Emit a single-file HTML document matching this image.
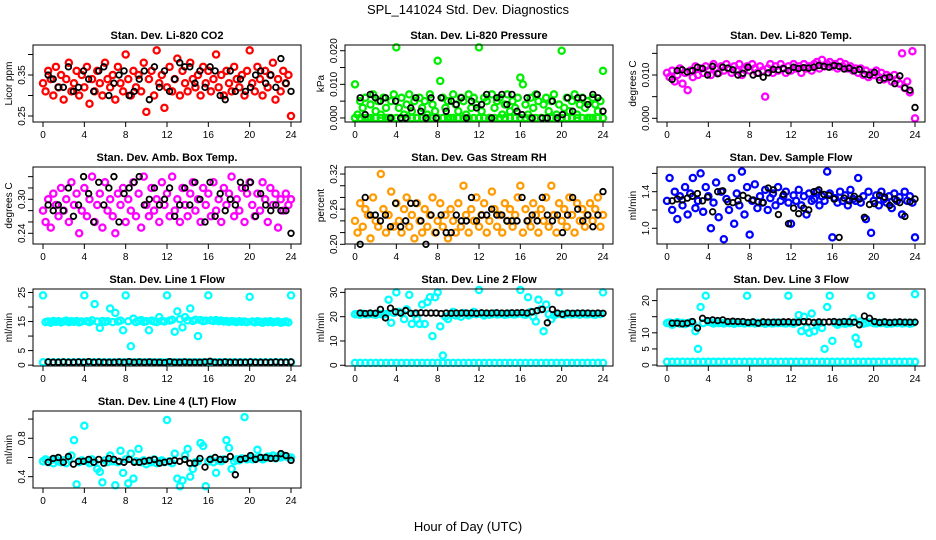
<!DOCTYPE html>
<html><head><meta charset="utf-8"><style>
html,body{margin:0;padding:0;background:#fff}
svg{display:block;font-family:"Liberation Sans",sans-serif}
</style></head><body>
<svg id="chart" width="936" height="540" viewBox="0 0 936 540">
<text x="468" y="14" text-anchor="middle" font-size="13">SPL_141024  Std. Dev. Diagnostics</text>
<text x="468" y="531" text-anchor="middle" font-size="13">Hour of Day (UTC)</text>
</svg>
<script>
const xTicks=[0,4,8,12,16,20,24];
const co2Vals=[0.33,0.31,0.36,0.34,0.30,0.37,0.32,0.35,0.29,0.34,0.38,0.31,0.33,0.36,0.30,0.35,0.32,0.37,0.28,0.34,0.31,0.36,0.33,0.30,0.38,0.34,0.32,0.35,0.29,0.37,0.33,0.31,0.40,0.34,0.30,0.36,0.32,0.35,0.31,0.38,0.26,0.34,0.36,0.30,0.41,0.33,0.35,0.27,0.32,0.37,0.31,0.34,0.39,0.30,0.36,0.33,0.31,0.38,0.34,0.32,0.35,0.30,0.37,0.33,0.36,0.31,0.34,0.40,0.32,0.35,0.30,0.36,0.33,0.31,0.37,0.34,0.32,0.35,0.30,0.36,0.41,0.33,0.31,0.37,0.34,0.30,0.36,0.32,0.35,0.38,0.29,0.34,0.31,0.36,0.33,0.35,0.25];
const co2Mean=[0.35,0.34,0.32,0.32,0.37,0.31,0.32,0.36,0.34,0.31,0.36,0.37,0.30,0.33,0.35,0.36,0.30,0.31,0.34,0.36,0.29,0.37,0.32,0.36,0.31,0.34,0.38,0.37,0.37,0.33,0.36,0.32,0.37,0.36,0.30,0.29,0.36,0.31,0.34,0.31,0.32,0.35,0.36,0.33,0.35,0.32,0.39,0.33,0.31];
const presVals=[0.010,0.001,0.005,0.003,0.006,0.000,0.004,0.007,0.002,0.005,0.001,0.006,0.003,0.000,0.005,0.007,0.021,0.003,0.006,0.001,0.004,0.007,0.002,0.005,0.000,0.006,0.003,0.005,0.001,0.007,0.004,0.002,0.017,0.011,0.006,0.003,0.005,0.000,0.007,0.004,0.002,0.006,0.005,0.001,0.007,0.003,0.006,0.004,0.021,0.002,0.006,0.005,0.000,0.007,0.003,0.005,0.006,0.001,0.004,0.007,0.002,0.005,0.003,0.006,0.012,0.010,0.004,0.001,0.006,0.003,0.007,0.005,0.000,0.004,0.006,0.002,0.005,0.007,0.001,0.004,0.020,0.003,0.006,0.002,0.005,0.007,0.001,0.004,0.006,0.003,0.005,0.000,0.006,0.004,0.002,0.005,0.014];
const presBase=[0,0,0,0,0,0,0,0,0,0,0,0,0,0,0,0,0,0,0,0,0,0,0,0,0,0,0,0,0,0,0,0,0,0,0,0,0,0,0,0,0,0,0,0,0,0,0,0,0];
const presMean=[0.006,0.001,0.007,0.006,0.005,0.006,0.000,0.005,0.000,0.000,0.003,0.006,0.002,0.000,0.006,0.000,0.006,0.002,0.005,0.004,0.006,0.000,0.005,0.003,0.004,0.007,0.000,0.006,0.007,0.004,0.007,0.002,0.001,0.006,0.000,0.007,0.000,0.000,0.005,0.000,0.001,0.006,0.002,0.006,0.006,0.004,0.007,0.006,0.002];
const tempVals=[0.0105,0.0095,0.0110,0.0085,0.0100,0.0115,0.0080,0.0105,0.0065,0.0110,0.0095,0.0120,0.0100,0.0115,0.0105,0.0120,0.0110,0.0100,0.0125,0.0115,0.0105,0.0120,0.0110,0.0125,0.0115,0.0105,0.0120,0.0110,0.0125,0.0100,0.0115,0.0120,0.0110,0.0125,0.0115,0.0105,0.0120,0.0110,0.0050,0.0115,0.0125,0.0105,0.0120,0.0110,0.0125,0.0115,0.0105,0.0120,0.0110,0.0125,0.0115,0.0120,0.0105,0.0125,0.0115,0.0120,0.0110,0.0125,0.0130,0.0115,0.0135,0.0120,0.0125,0.0130,0.0120,0.0125,0.0115,0.0130,0.0120,0.0125,0.0115,0.0120,0.0110,0.0115,0.0105,0.0115,0.0100,0.0110,0.0095,0.0105,0.0100,0.0110,0.0095,0.0105,0.0090,0.0100,0.0095,0.0085,0.0100,0.0090,0.0080,0.0150,0.0070,0.0085,0.0060,0.0155,0.0000];
const tempMean=[0.0090,0.0110,0.0112,0.0107,0.0110,0.0118,0.0115,0.0100,0.0120,0.0103,0.0118,0.0116,0.0112,0.0100,0.0104,0.0118,0.0100,0.0104,0.0095,0.0105,0.0113,0.0112,0.0115,0.0110,0.0118,0.0115,0.0117,0.0116,0.0118,0.0122,0.0120,0.0118,0.0122,0.0120,0.0114,0.0116,0.0110,0.0113,0.0102,0.0100,0.0106,0.0088,0.0093,0.0095,0.0080,0.0098,0.0070,0.0065,0.0025];
const boxVals=[0.28,0.26,0.30,0.25,0.31,0.29,0.27,0.32,0.28,0.30,0.26,0.33,0.29,0.31,0.24,0.28,0.32,0.27,0.30,0.34,0.26,0.29,0.31,0.25,0.33,0.28,0.30,0.27,0.24,0.31,0.29,0.32,0.26,0.30,0.28,0.33,0.27,0.31,0.25,0.34,0.29,0.27,0.32,0.28,0.30,0.26,0.33,0.29,0.31,0.27,0.34,0.28,0.30,0.26,0.32,0.29,0.27,0.31,0.33,0.28,0.30,0.26,0.32,0.29,0.31,0.27,0.33,0.28,0.30,0.26,0.32,0.29,0.31,0.34,0.27,0.30,0.28,0.32,0.26,0.31,0.33,0.29,0.27,0.31,0.28,0.33,0.30,0.26,0.32,0.29,0.31,0.25,0.30,0.28,0.31,0.29,0.30];
const boxMean=[0.29,0.28,0.29,0.28,0.32,0.27,0.29,0.34,0.31,0.26,0.33,0.29,0.32,0.34,0.26,0.31,0.32,0.33,0.34,0.29,0.30,0.32,0.29,0.30,0.32,0.27,0.29,0.32,0.29,0.33,0.30,0.26,0.33,0.27,0.31,0.28,0.30,0.29,0.33,0.32,0.33,0.27,0.31,0.29,0.28,0.29,0.28,0.28,0.24];
const rhVals=[0.24,0.22,0.27,0.23,0.26,0.25,0.21,0.28,0.24,0.23,0.32,0.26,0.22,0.25,0.29,0.23,0.27,0.24,0.22,0.26,0.28,0.23,0.25,0.21,0.27,0.24,0.22,0.26,0.23,0.25,0.28,0.22,0.24,0.27,0.23,0.25,0.21,0.26,0.24,0.22,0.27,0.23,0.30,0.25,0.22,0.26,0.24,0.28,0.23,0.25,0.27,0.22,0.24,0.29,0.26,0.23,0.25,0.22,0.27,0.24,0.26,0.23,0.25,0.28,0.30,0.22,0.26,0.24,0.23,0.27,0.25,0.22,0.26,0.24,0.28,0.23,0.30,0.25,0.22,0.27,0.24,0.26,0.23,0.28,0.25,0.22,0.27,0.24,0.26,0.23,0.25,0.27,0.24,0.26,0.28,0.23,0.25];
const rhMean=[0.20,0.28,0.25,0.25,0.24,0.25,0.23,0.27,0.23,0.24,0.27,0.27,0.24,0.20,0.25,0.22,0.25,0.22,0.22,0.25,0.24,0.24,0.28,0.24,0.25,0.25,0.26,0.25,0.25,0.24,0.24,0.24,0.28,0.24,0.25,0.24,0.28,0.25,0.24,0.25,0.22,0.25,0.28,0.26,0.24,0.25,0.23,0.25,0.29];
const sampVals=[1.30,1.55,1.20,1.40,1.10,1.35,1.25,1.45,1.15,1.38,1.55,1.22,1.30,1.60,1.18,1.45,1.35,1.00,1.28,1.50,1.12,1.40,0.88,1.32,1.20,1.55,1.05,1.38,1.25,1.62,1.15,1.45,0.93,1.30,1.48,1.22,1.35,1.28,1.42,1.20,1.33,1.38,1.25,1.45,1.30,1.35,1.40,1.28,1.05,1.36,1.30,1.42,1.25,1.35,1.15,1.38,1.30,1.32,1.40,1.25,1.35,1.30,1.62,1.38,0.90,1.33,1.28,1.40,1.30,1.36,1.25,1.42,1.32,1.30,1.55,1.28,1.35,1.10,1.40,0.95,1.30,1.36,1.25,1.40,1.32,1.28,1.35,1.22,1.38,1.30,1.34,1.15,1.40,1.30,1.35,1.28,0.90];
const sampMean=[1.30,1.32,1.31,1.33,1.35,1.38,1.30,1.34,1.18,1.40,1.41,1.29,1.28,1.30,1.36,1.33,1.31,1.29,1.28,1.44,1.42,1.15,1.37,1.05,1.22,1.16,1.22,1.20,1.40,1.42,1.37,1.36,1.32,0.90,1.33,1.30,1.35,1.32,1.12,1.26,1.27,1.36,1.34,1.25,1.32,1.28,1.13,1.29,1.32];
const l1Vals=[24,14.8,15.0,14.6,15.2,14.9,15.1,14.7,15.0,15.3,14.8,15.1,14.9,15.2,14.7,15.0,24,15.1,14.8,15.4,21,15.0,12.8,15.2,14.9,15.1,19.5,14.8,18,15.0,15.3,12,24,15.1,6.5,16.0,14.8,15.2,15.5,14.9,15.1,12,15.3,15.0,14.8,16.5,15.2,15.0,24,15.3,15.6,11.5,18.5,15.8,13,16.5,15.4,19.5,15.2,15.6,10,15.5,15.1,15.3,24,15.4,15.2,15.5,15.1,15.3,15.0,15.2,14.9,15.1,15.0,14.8,15.1,14.9,15.0,14.8,23.5,15.0,14.7,15.1,14.9,14.6,15.0,14.8,15.1,14.7,14.9,15.0,14.6,14.8,15.0,14.7,24];
const l1Base=[1,1,1,1,1,1,1,1,1,1,1,1,1,1,1,1,1,1,1,1,1,1,1,1,1,1,1,1,1,1,1,1,1,1,1,1,1,1,1,1,1,1,1,1,1,1,1,1,1];
const l1Mean=[1.1,1.0,1.0,1.1,1.0,1.0,1.1,1.0,1.2,1.0,1.1,1.0,1.0,1.0,1.1,1.0,1.2,1.0,1.1,1.0,1.1,1.0,1.0,0.9,1.2,1.0,1.0,1.1,1.0,1.0,1.0,1.1,1.3,1.0,1.0,1.1,1.0,1.0,1.0,1.0,1.1,1.0,1.0,1.0,1.0,1.1,1.0,1.0,1.1];
const l2Vals=[21,21,20.8,21.2,21,20.9,21.1,21,20.8,21.2,21,20.9,21.1,27,17.5,21.5,30,22,21.5,19,23,29,17,21,19,17,25,17,26,28,12,28,30,16,4,20,19,21,22,20.5,21,20,21.5,21,20.5,21,22,21,31,21,20.5,21.2,20.8,21,21.3,20.9,21,21.1,20.8,21,21.2,21,20.9,21.2,31,21,20.8,28,22,20,18,27,23,14,25,21,19,20.5,21,30,21,20.8,21.2,21,20.9,21.1,21,20.8,21.2,21,20.9,21.1,21,20.8,21.2,21,30];
const l2Base=[1,1,1,1,1,1,1,1,1,1,1,1,1,1,1,1,1,1,1,1,1,1,1,1,1,1,1,1,1,1,1,1,1,1,1,1,1,1,1,1,1,1,1,1,1,1,1,1,1];
const l2Mean=[21.5,21.3,21.5,21.4,23,19.5,23.5,22,21.5,22.5,21.4,21.5,21.6,21.5,21.5,21.5,21.3,21.5,21.4,21.5,21.5,21.5,21.5,21.4,21.6,21.5,21.5,21.6,21.5,21.5,21.6,21.6,21.7,21.5,22,22.5,23,17.5,23,21.5,21,21.5,21.4,21.5,21.5,21.5,21.4,21.5,21.4];
const l3Vals=[13,13.2,12.5,13,13.3,12.8,13.1,12.7,13,13.2,12.9,10.5,5,18,13,21.5,13.4,13.2,12.9,13.3,13,13.1,12.9,13.2,13,13.1,12.8,13.2,13,13.1,12.9,21.5,13,13.2,12.9,13.1,13,13.2,12.8,13.1,13,12.9,13.2,13,13.1,13,12.9,21.5,13,12.8,13.2,15.5,10.5,15,11.5,10,16,10.5,12.5,13,11.5,5,18,21.5,7.5,13,12.5,13.2,13,12.8,13.2,13,14.5,8.5,6.5,13.5,12.8,13,13.2,21.5,13,12.9,13.1,13,13.2,12.8,13,12.9,13.1,13,13.2,12.9,13,13.1,12.8,13,22];
const l3Base=[1,1,1,1,1,1,1,1,1,1,1,1,1,1,1,1,1,1,1,1,1,1,1,1,1,1,1,1,1,1,1,1,1,1,1,1,1,1,1,1,1,1,1,1,1,1,1,1,1];
const l3Mean=[13,13,12.8,13,13.5,11.5,14.5,13.8,14,13.8,14,13.5,13.6,13.5,13.5,13.2,13.4,13,13.4,13.3,13.3,13.3,13.4,13.4,13.3,13.3,13.5,13.4,13.2,13.4,13.3,13.4,13.5,13.3,13.5,13.4,13.3,12.5,15.2,14.5,13.5,13.2,13.4,13.2,13.3,13.4,13.3,13.3,13.3];
const l4Vals=[0.56,0.58,0.55,0.57,0.54,0.58,0.56,0.55,0.57,0.54,0.58,0.62,0.78,0.32,0.55,0.57,0.93,0.56,0.54,0.58,0.55,0.48,0.45,0.34,0.57,0.55,0.62,0.56,0.31,0.55,0.67,0.44,0.58,0.33,0.64,0.38,0.56,0.69,0.55,0.57,0.53,0.56,0.55,0.58,0.54,0.56,0.57,0.55,0.99,0.56,0.54,0.64,0.38,0.30,0.36,0.62,0.69,0.40,0.48,0.55,0.56,0.75,0.72,0.30,0.56,0.58,0.55,0.44,0.57,0.56,0.58,0.78,0.70,0.48,0.56,0.58,0.57,0.59,1.02,0.58,0.60,0.58,0.59,0.68,0.60,0.58,0.59,0.61,0.60,0.62,0.59,0.61,0.60,0.62,0.61,0.60,0.60];
const l4Mean=[0.55,0.59,0.60,0.55,0.61,0.53,0.56,0.56,0.58,0.55,0.58,0.54,0.59,0.58,0.56,0.55,0.58,0.55,0.55,0.56,0.57,0.58,0.54,0.55,0.56,0.57,0.56,0.58,0.54,0.54,0.59,0.50,0.58,0.60,0.58,0.58,0.61,0.42,0.58,0.59,0.62,0.58,0.60,0.60,0.59,0.59,0.64,0.62,0.57];

const panels=[
 {c:0,r:0,title:"Stan. Dev. Li-820 CO2",ylab:"Licor ppm",lo:0.2354,hi:0.4232,ticks:[0.25,0.30,0.35,0.40],labs:["0.25","0.35"],col:"#ff0000",series:[co2Vals],mean:co2Mean},
 {c:1,r:0,title:"Stan. Dev. Li-820 Pressure",ylab:"kPa",lo:-0.0012,hi:0.0217,ticks:[0,0.005,0.010,0.015,0.020],labs:["0.000","0.010","0.020"],col:"#00ee00",series:[presBase,presVals],mean:presMean},
 {c:2,r:0,title:"Stan. Dev. Li-820 Temp.",ylab:"degrees C",lo:-0.00085,hi:0.01693,ticks:[0,0.005,0.010,0.015],labs:["0.000","0.010"],col:"#ff00ff",series:[tempVals],mean:tempMean},
 {c:0,r:1,title:"Stan. Dev. Amb. Box Temp.",ylab:"degrees C",lo:0.2211,hi:0.357,ticks:[0.24,0.26,0.28,0.30,0.32,0.34],labs:["0.24","0.30"],col:"#ff00ff",series:[boxVals],mean:boxMean},
 {c:1,r:1,title:"Stan. Dev. Gas Stream RH",ylab:"percent",lo:0.2005,hi:0.332,ticks:[0.20,0.22,0.24,0.26,0.28,0.30,0.32],labs:["0.20","0.26","0.32"],col:"#ff9a00",series:[rhVals],mean:rhMean},
 {c:2,r:1,title:"Stan. Dev. Sample Flow",ylab:"ml/min",lo:0.828,hi:1.670,ticks:[1.0,1.2,1.4,1.6],labs:["1.0","1.4"],col:"#0000ff",series:[sampVals],mean:sampMean},
 {c:0,r:2,title:"Stan. Dev. Line 1 Flow",ylab:"ml/min",lo:-0.3,hi:26.2,ticks:[0,5,10,15,20,25],labs:["0","5","15","25"],col:"#00ffff",series:[l1Base,l1Vals],mean:l1Mean},
 {c:1,r:2,title:"Stan. Dev. Line 2 Flow",ylab:"ml/min",lo:-0.3,hi:31.4,ticks:[0,10,20,30],labs:["0","10","20","30"],col:"#00ffff",series:[l2Base,l2Vals],mean:l2Mean},
 {c:2,r:2,title:"Stan. Dev. Line 3 Flow",ylab:"ml/min",lo:-0.3,hi:23.6,ticks:[0,5,10,15,20],labs:["0","5","10","20"],col:"#00ffff",series:[l3Base,l3Vals],mean:l3Mean},
 {c:0,r:3,title:"Stan. Dev. Line 4 (LT) Flow",ylab:"ml/min",lo:0.282,hi:1.084,ticks:[0.4,0.6,0.8,1.0],labs:["0.4","0.8"],col:"#00ffff",series:[l4Vals],mean:l4Mean}
];
const NS="http://www.w3.org/2000/svg";
const svg=document.getElementById('chart');
function mk(tag,attrs,parent){const e=document.createElementNS(NS,tag);for(const k in attrs)e.setAttribute(k,attrs[k]);parent.appendChild(e);return e;}
panels.forEach((p,pi)=>{
  const g=mk('g',{},svg);
  
  
  const x0=43+312*p.c, x24=291+312*p.c;
  const top=45+122*p.r, bot=122+122*p.r;
  const L=x0-10, R=x24+10;
  const xs=h=>x0+(x24-x0)*h/24;
  const ys=v=>bot-(v-p.lo)/(p.hi-p.lo)*(bot-top);
  const t=mk('text',{x:(L+R)/2,y:top-6,'text-anchor':'middle','font-size':11,'font-weight':'bold'},g);
  t.textContent=p.title;
  
  
  const yl=mk('text',{x:0,y:0,'text-anchor':'middle','font-size':10,transform:`translate(${L-21},${(top+bot)/2}) rotate(-90)`},g);
  yl.textContent=p.ylab;
  
  
  mk('line',{x1:x0,y1:bot,x2:x24,y2:bot,stroke:'#000','stroke-width':1},g);
  xTicks.forEach(h=>{
    mk('line',{x1:xs(h),y1:bot,x2:xs(h),y2:bot+5,stroke:'#000','stroke-width':1},g);
    const tl=mk('text',{x:xs(h),y:bot+16,'text-anchor':'middle','font-size':10},g);
    tl.textContent=h;
    
    
  });
  const yt0=ys(p.ticks[0]), yt1=ys(p.ticks[p.ticks.length-1]);
  mk('line',{x1:L,y1:yt0,x2:L,y2:yt1,stroke:'#000','stroke-width':1},g);
  p.ticks.forEach(v=>{mk('line',{x1:L-5,y1:ys(v),x2:L,y2:ys(v),stroke:'#000','stroke-width':1},g);});
  p.labs.forEach(s=>{
    const v=parseFloat(s);
    const tl=mk('text',{x:0,y:0,'text-anchor':'middle','font-size':10,transform:`translate(${L-8},${ys(v)}) rotate(-90)`},g);
    tl.textContent=s;
    
    
  });
  const clip=mk('g',{},g);
  p.series.forEach(arr=>{
    const n=arr.length;
    arr.forEach((v,i)=>{
      const c=mk('circle',{cx:xs(i*24/(n-1)),cy:ys(v),r:3.1,fill:'none',stroke:p.col,'stroke-width':2.3},clip);
      
      
    });
  });
  const n=p.mean.length;
  p.mean.forEach((v,i)=>{
    const c=mk('circle',{cx:xs(0.5+i*23.5/(n-1)),cy:ys(v),r:2.8,fill:'none',stroke:'#000','stroke-width':1.8},clip);
    
    
  });
  const b=mk('rect',{x:L,y:top,width:R-L,height:bot-top,fill:'none',stroke:'#000','stroke-width':1},g);
  
  
});
</script>
</body></html>
